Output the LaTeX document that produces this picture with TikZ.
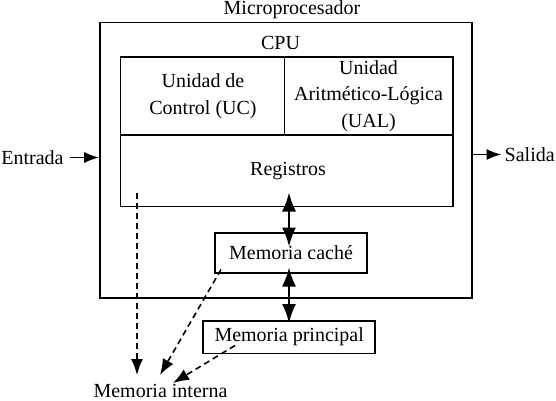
\documentclass[tikz,border=0pt]{standalone}
\usepackage{fontspec}
\setmainfont{Liberation Serif}
\usetikzlibrary{arrows.meta}
\begin{document}
\begin{tikzpicture}[x=1pt,y=-1pt,
  every node/.style={font=\fontsize{20}{26.5}\selectfont, inner sep=0pt},
  boxed/.style={draw, line width=1.6pt, minimum width=#1},
  dblarr/.style={line width=1.9pt, {Latex[length=19pt,width=14pt]}-{Latex[length=19pt,width=14pt]}},
  sarr/.style={line width=1.6pt, -{Latex[length=15pt,width=11pt]}},
  darr/.style={line width=1.6pt, dash pattern=on 6pt off 4pt, -{Latex[length=16pt,width=12pt]}}
]
\useasboundingbox (0,0) rectangle (556,400);
% outer boxes
\node[boxed=372pt, minimum height=275.5pt] (outer) at (286,160.25) {};
\node[boxed=332.5pt, minimum height=149.5pt] (cpu) at (286.75,131.75) {};
\draw[line width=1.6pt] (cpu.west |- 0,135) -- (cpu.east |- 0,135);
\draw[line width=1.6pt] (284.5,0 |- cpu.north) -- (284.5,135);
% labels
\node (micro) at (292,10) {Microprocesador};
\node (cpulbl) at (280.5,43) {CPU};
\node[align=center] (uc) at (203,96) {Unidad de\\Control (UC)};
\node[align=center] (ual) at (368.5,96) {Unidad\\Aritmético-Lógica\\(UAL)};
\node (reg) at (288,171.5) {Registros};
% memory boxes
\node[boxed=152pt, minimum height=40pt] (cache) at (291,252.7) {Memoria caché};
\node[boxed=172pt, minimum height=32.6pt] (principal) at (289.2,337) {Memoria principal};
% in/out
\node (entrada) at (32.5,157.5) {Entrada};
\node[anchor=west] (salida) at (504.5,154.5) {Salida};
\draw[sarr] ([xshift=6pt]entrada.east) -- (entrada.east -| outer.west);
\draw[sarr] (outer.east |- salida.west) -- ([xshift=-3pt]salida.west);
% bidirectional arrows
\coordinate (a1) at (289,192.5);
\coordinate (a2) at (289,246.5);
\coordinate (b1) at (289,267.5);
\coordinate (b2) at (289,323);
\draw[dblarr] (a1) -- (a2);
\draw[dblarr] (b1) -- (b2);
% memoria interna
\node (mi) at (160.5,390.5) {Memoria interna};
\coordinate (s1) at (137,193);
\coordinate (t1) at (137,375);
\coordinate (s2) at (221,269.5);
\coordinate (t2) at (160,375);
\coordinate (s3) at (235,345.5);
\coordinate (t3) at (173,383);
\draw[darr] (s1) -- (t1);
\draw[darr] (s2) -- (t2);
\draw[darr] (s3) -- (t3);
\end{tikzpicture}
\end{document}
